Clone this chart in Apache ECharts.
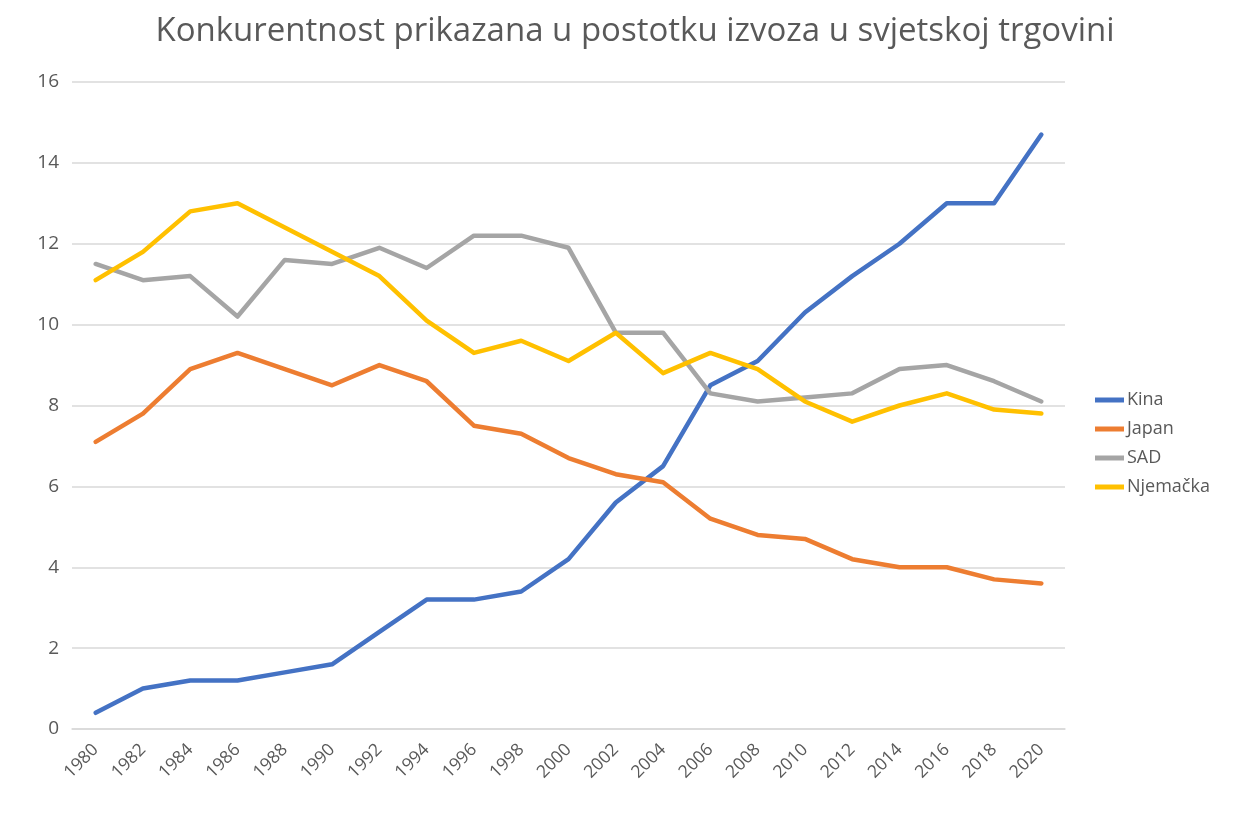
<!DOCTYPE html>
<html>
<head>
<meta charset="utf-8">
<script src="https://cdn.jsdelivr.net/npm/echarts@6/dist/echarts.min.js"></script>
<style>
  html, body { margin: 0; padding: 0; background: #fff; }
  #chart { width: 1251px; height: 817px; }
</style>
</head>
<body>
<div id="chart"></div>
<script>
const years = ['1980', '1982', '1984', '1986', '1988', '1990', '1992', '1994', '1996', '1998', '2000',
  '2002', '2004', '2006', '2008', '2010', '2012', '2014', '2016', '2018', '2020']
const kina = [0.4, 1.0, 1.2, 1.2, 1.4, 1.6, 2.4, 3.2, 3.2, 3.4, 4.2, 5.6, 6.5, 8.5, 9.1, 10.3, 11.2, 12.0, 13.0, 13.0, 14.7]
const japan = [7.1, 7.8, 8.9, 9.3, 8.9, 8.5, 9.0, 8.6, 7.5, 7.3, 6.7, 6.3, 6.1, 5.2, 4.8, 4.7, 4.2, 4.0, 4.0, 3.7, 3.6]
const sad = [11.5, 11.1, 11.2, 10.2, 11.6, 11.5, 11.9, 11.4, 12.2, 12.2, 11.9, 9.8, 9.8, 8.3, 8.1, 8.2, 8.3, 8.9, 9.0, 8.6, 8.1]
const njemacka = [11.1, 11.8, 12.8, 13.0, 12.4, 11.8, 11.2, 10.1, 9.3, 9.6, 9.1, 9.8, 8.8, 9.3, 8.9, 8.1, 7.6, 8.0, 8.3, 7.9, 7.8]

const chart = echarts.init(document.getElementById('chart'))

function line(name, data, color) {
  return {
    name: name,
    type: 'line',
    data: data,
    symbol: 'none',
    lineStyle: { width: 4.5, color: color, cap: 'round', join: 'round' },
    itemStyle: { color: color },
    animation: false
  }
}

chart.setOption({
  backgroundColor: '#fff',
  textStyle: { fontFamily: 'Open Sans' },
  title: {
    text: 'Konkurentnost prikazana u postotku izvoza u svjetskoj trgovini',
    left: 630,
    textAlign: 'center',
    top: 10,
    textStyle: { fontFamily: 'Open Sans', fontSize: 33, fontWeight: 'normal', color: '#595959' }
  },
  legend: {
    orient: 'vertical',
    left: 1090,
    top: 386,
    itemWidth: 29,
    itemHeight: 5,
    itemGap: 11,
    icon: 'rect',
    textStyle: { fontSize: 18, color: '#595959', fontFamily: 'Open Sans', padding: [0, 0, 0, -2] },
    data: ['Kina', 'Japan', 'SAD', 'Njemačka']
  },
  grid: { left: 72, right: 186, top: 82, bottom: 88 },
  xAxis: {
    type: 'category',
    data: years,
    boundaryGap: true,
    axisLine: { show: true, lineStyle: { color: '#d9d9d9', width: 1.5 } },
    axisTick: { show: false },
    axisLabel: { rotate: 45, fontSize: 17.5, color: '#595959', margin: 18, interval: 0 }
  },
  yAxis: {
    type: 'value',
    min: 0,
    max: 16,
    interval: 2,
    axisLine: { show: false },
    axisTick: { show: false },
    axisLabel: { fontSize: 19, color: '#595959', margin: 13 },
    splitLine: { lineStyle: { color: '#d9d9d9', width: 1.5 } }
  },
  series: [
    line('Kina', kina, '#4472C4'),
    line('Japan', japan, '#ED7D31'),
    line('SAD', sad, '#A5A5A5'),
    line('Njemačka', njemacka, '#FFC000')
  ]
})
</script>
</body>
</html>
